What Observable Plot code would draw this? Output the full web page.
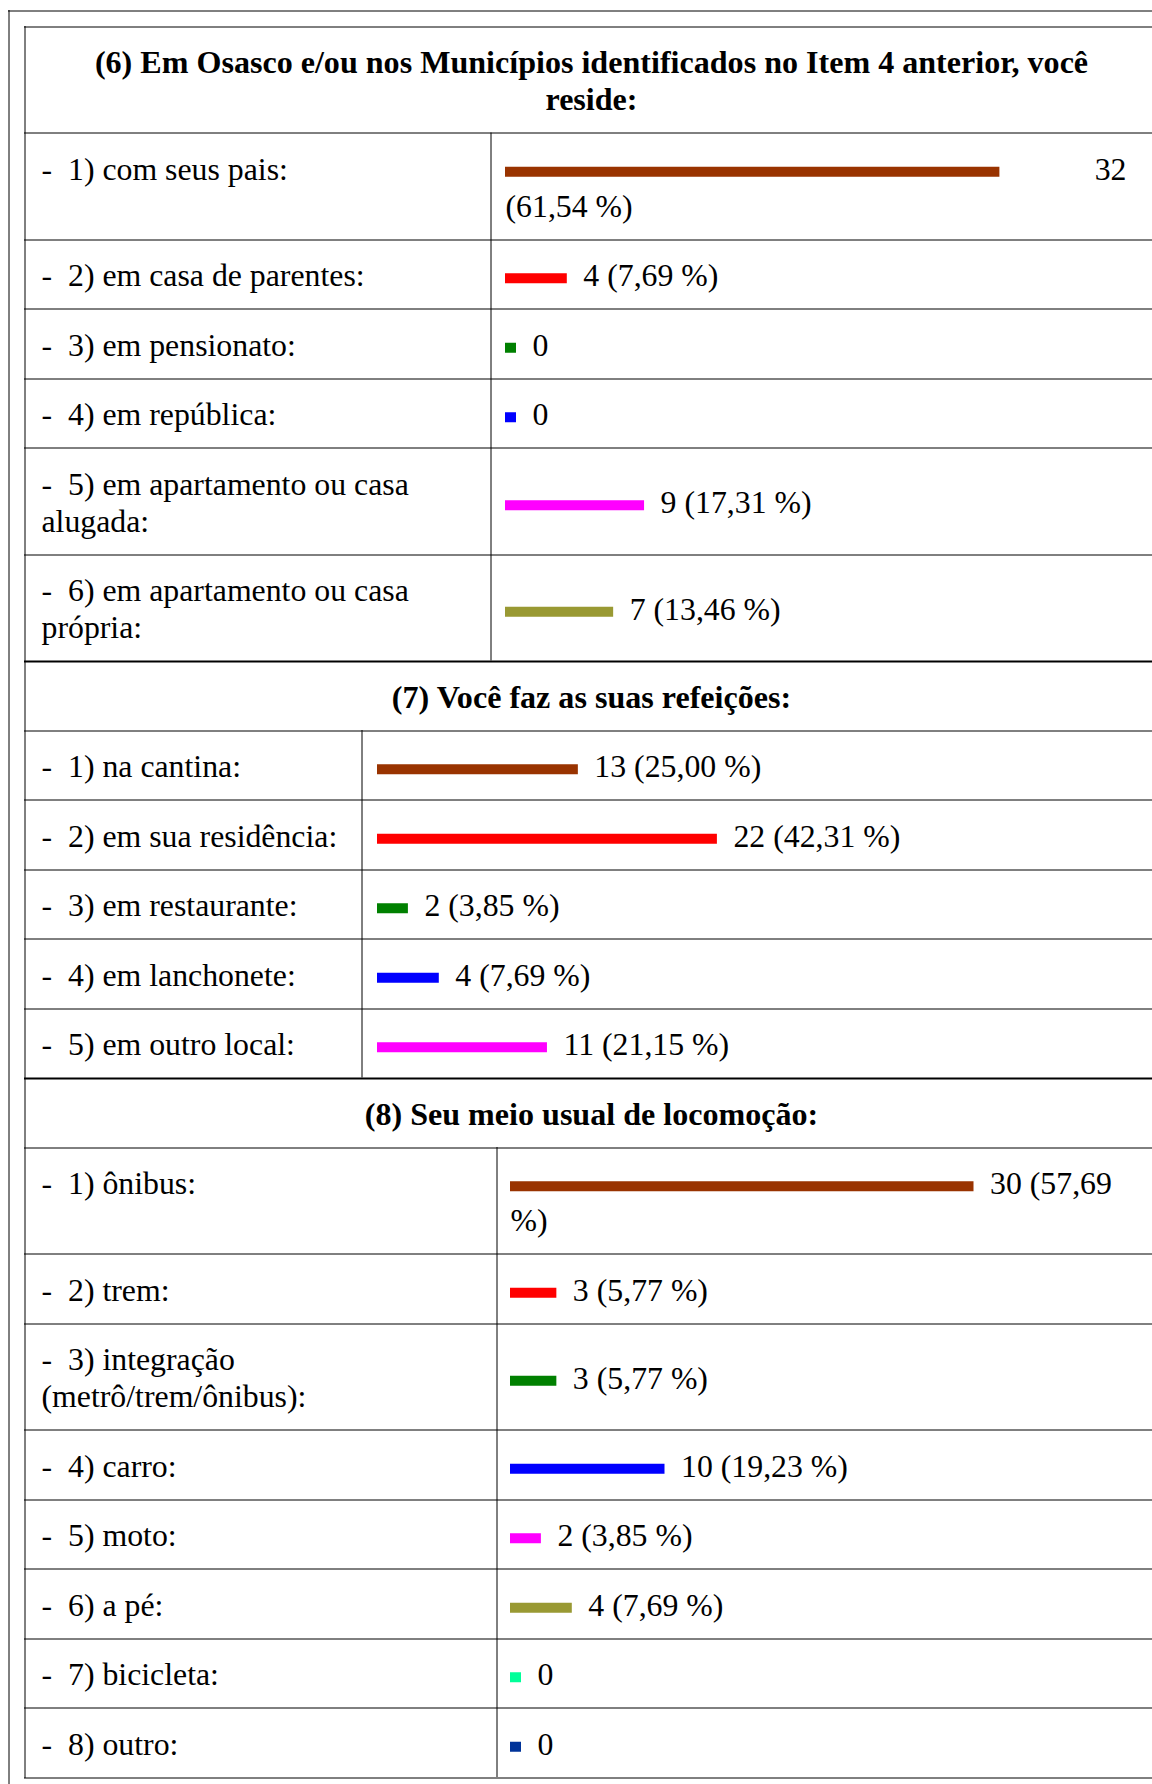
<!DOCTYPE html>
<html lang="pt">
<head>
<meta charset="utf-8">
<script src="https://cdn.jsdelivr.net/npm/d3@7"></script>
<script src="https://cdn.jsdelivr.net/npm/@observablehq/plot@0.6"></script>
<style>
html,body{margin:0;padding:0;background:#fff;overflow:hidden;}
#chart svg{display:block;}
</style>
</head>
<body>
<div id="chart"></div>
<script>
// ---------------- data ----------------
const s1Title = "(6) Em Osasco e/ou nos Municípios identificados no Item 4 anterior, você\nreside:";
const s1Categories = ["1) com seus pais:", "2) em casa de parentes:", "3) em pensionato:", "4) em república:", "5) em apartamento ou casa\nalugada:", "6) em apartamento ou casa\nprópria:"];
const s1Values = [32, 4, 0, 0, 9, 7];
const s1Percents = ["61,54", "7,69", "", "", "17,31", "13,46"];
const s1Colors = ["#993300", "#ff0000", "#008000", "#0000ff", "#ff00ff", "#999933"];
const s1Wrap = {0: {words: 1, justify: true}};

const s2Title = "(7) Você faz as suas refeições:";
const s2Categories = ["1) na cantina:", "2) em sua residência:", "3) em restaurante:", "4) em lanchonete:", "5) em outro local:"];
const s2Values = [13, 22, 2, 4, 11];
const s2Percents = ["25,00", "42,31", "3,85", "7,69", "21,15"];
const s2Colors = ["#993300", "#ff0000", "#008000", "#0000ff", "#ff00ff"];
const s2Wrap = {};

const s3Title = "(8) Seu meio usual de locomoção:";
const s3Categories = ["1) ônibus:", "2) trem:", "3) integração\n(metrô/trem/ônibus):", "4) carro:", "5) moto:", "6) a pé:", "7) bicicleta:", "8) outro:"];
const s3Values = [30, 3, 3, 10, 2, 4, 0, 0];
const s3Percents = ["57,69", "5,77", "5,77", "19,23", "3,85", "7,69", "", ""];
const s3Colors = ["#993300", "#ff0000", "#008000", "#0000ff", "#ff00ff", "#999933", "#00ff99", "#003399"];
const s3Wrap = {0: {words: 2}};

// ---------------- layout ----------------
const W = 1152, H = 1784;
const K = 15.45;                 // px per respondent
const FS = 31.8, TITLE_FS = 32.1, LINE = 37, PAD = 16.25;
const FONT = "'Liberation Serif','Times New Roman',Times,serif";
const rowH = n => 2 * PAD + LINE * n;
const FRAME_X = 8, FRAME_Y = 10, TABLE_X = 24, TABLE_TOP = 26;
const LABEL_X = 41, TITLE_CX = 591, JUSTIFY_RIGHT = 1126;
const BAR_H = 10, BAR_DY = 4.5, ZERO_W = 11, GAP = 16;

const sections = [
  {title: s1Title, cats: s1Categories, values: s1Values, pcts: s1Percents, colors: s1Colors, wrap: s1Wrap, colX: 490, barStart: 505},
  {title: s2Title, cats: s2Categories, values: s2Values, pcts: s2Percents, colors: s2Colors, wrap: s2Wrap, colX: 361, barStart: 377},
  {title: s3Title, cats: s3Categories, values: s3Values, pcts: s3Percents, colors: s3Colors, wrap: s3Wrap, colX: 496, barStart: 510}
];

let cursor = TABLE_TOP;
for (const s of sections) {
  s.top = cursor;
  s.titleH = rowH(s.title.split("\n").length);
  s.titleMid = s.top + s.titleH / 2;
  let y = s.top + s.titleH;
  s.bodyTop = y;
  s.rows = s.cats.map((cat, i) => {
    const labelLines = cat.split("\n").length;
    const n = Math.max(labelLines, s.wrap[i] ? 2 : 1);
    const r = {i, cat, value: s.values[i], pct: s.pcts[i], color: s.colors[i], top: y, h: rowH(n), wrap: s.wrap[i]};
    r.mid = y + r.h / 2;
    r.labelY = y + PAD + labelLines * LINE / 2;   // labels are top-aligned in their cell
    r.label = r.value === 0 ? "0" : `${r.value} (${r.pct} %)`;
    y += r.h;
    return r;
  });
  s.bottom = y;
  cursor = y;
}
const tableBottom = cursor;
sections.forEach((s, i) => {
  s.svgTop = i === 0 ? 0 : Math.round(s.top) + 1;
  s.svgBottom = i === sections.length - 1 ? H : Math.round(s.bottom) + 1;
});

const crisp = (y, w) => (w === 2 ? Math.round(y) : Math.floor(y) + 0.5);
const textBase = {fontFamily: FONT, fontSize: FS, lineHeight: LINE / FS, fill: "black", lineAnchor: "middle"};

const chart = document.getElementById("chart");

sections.forEach((s, si) => {
  const u = px => (px - s.barStart) / K;
  const last = si === sections.length - 1;

  // horizontal table lines
  const hl = [{y: s.top, w: si === 0 ? 1 : 2}, {y: s.bodyTop, w: 1}];
  s.rows.forEach((r, j) => hl.push({y: r.top + r.h, w: (j === s.rows.length - 1 && !last) ? 2 : 1}));
  hl.forEach(d => d.yy = crisp(d.y, d.w));
  const thin = hl.filter(d => d.w === 1), thick = hl.filter(d => d.w === 2);

  // bars
  const bars = s.rows.map(r => ({value: r.value, color: r.color,
    by: (r.wrap ? r.mid - LINE / 2 : r.mid) + BAR_DY}));

  // value texts
  const afterBar = [], afterZero = [], line2 = [], justified = [];
  s.rows.forEach(r => {
    if (r.wrap) {
      const words = r.label.split(" ");
      const l1 = words.slice(0, r.wrap.words).join(" ");
      const l2 = words.slice(r.wrap.words).join(" ");
      const item1 = {value: r.value, y: r.mid - LINE / 2, text: l1};
      if (r.wrap.justify) justified.push(item1); else afterBar.push(item1);
      line2.push({y: r.mid + LINE / 2, text: l2});
    } else {
      (r.value === 0 ? afterZero : afterBar).push({value: r.value, y: r.mid, text: r.label});
    }
  });

  const marks = [
    // outer frame
    Plot.ruleX([FRAME_X + 0.5], {x: d => u(d), y1: Math.max(s.svgTop, FRAME_Y), y2: s.svgBottom, stroke: "black", strokeWidth: 1}),
    // table left border
    Plot.ruleX([TABLE_X + 0.5], {x: d => u(d), y1: Math.max(s.svgTop, TABLE_TOP), y2: Math.min(s.svgBottom, crisp(tableBottom, 1) + 0.5), stroke: "black", strokeWidth: 1}),
    // column divider
    Plot.ruleX([s.colX + 0.5], {x: d => u(d), y1: s.bodyTop, y2: s.bottom, stroke: "black", strokeWidth: 1}),
    Plot.ruleY(thin, {y: "yy", x1: u(TABLE_X), x2: u(W + 20), stroke: "black", strokeWidth: 1}),
    Plot.ruleY(thick, {y: "yy", x1: u(TABLE_X), x2: u(W + 20), stroke: "black", strokeWidth: 2}),
    // title
    Plot.text([s.title], {...textBase, fontSize: TITLE_FS, lineHeight: LINE / TITLE_FS, x: u(TITLE_CX), y: s.titleMid, text: d => d, textAnchor: "middle", fontWeight: "bold"}),
    // category labels
    Plot.text(s.rows, {...textBase, x: u(LABEL_X), y: "labelY", text: d => "-\u00a0\u00a0" + d.cat, textAnchor: "start"}),
    // bars
    Plot.rect(bars.filter(d => d.value > 0), {x1: 0, x2: "value", y1: d => d.by - BAR_H / 2, y2: d => d.by + BAR_H / 2, fill: "color"}),
    Plot.rect(bars.filter(d => d.value === 0), {x1: 0, x2: "value", y1: d => d.by - BAR_H / 2, y2: d => d.by + BAR_H / 2, fill: "color", insetRight: -ZERO_W}),
    // value labels
    Plot.text(afterBar, {...textBase, x: "value", y: "y", text: "text", textAnchor: "start", dx: GAP}),
    Plot.text(afterZero, {...textBase, x: "value", y: "y", text: "text", textAnchor: "start", dx: ZERO_W + GAP}),
    Plot.text(line2, {...textBase, x: 0, y: "y", text: "text", textAnchor: "start"}),
    Plot.text(justified, {...textBase, x: u(JUSTIFY_RIGHT), y: "y", text: "text", textAnchor: "end"})
  ];
  if (si === 0) {
    marks.unshift(Plot.ruleY([FRAME_Y + 0.5], {y: d => d, x1: u(FRAME_X), x2: u(W + 20), stroke: "black", strokeWidth: 1}));
  }

  const svg = Plot.plot({
    width: W,
    height: s.svgBottom - s.svgTop,
    marginTop: 0, marginRight: 0, marginBottom: 0, marginLeft: 0,
    style: {background: "#fff", overflow: "hidden"},
    x: {type: "linear", domain: [0, 32], range: [s.barStart, s.barStart + 32 * K], axis: null},
    y: {type: "linear", domain: [s.svgTop, s.svgBottom], range: [0, s.svgBottom - s.svgTop], axis: null},
    color: {type: "identity"},
    marks
  });
  chart.appendChild(svg);
});
</script>
</body>
</html>
